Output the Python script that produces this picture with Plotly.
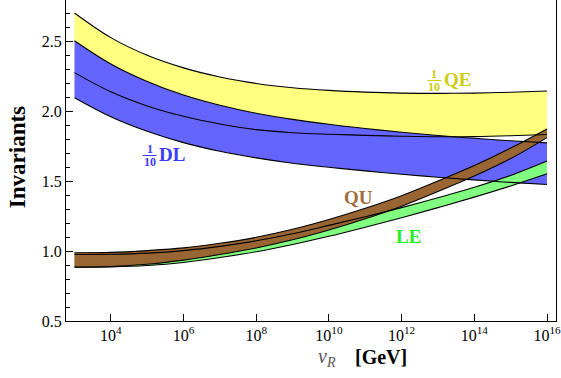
import plotly.graph_objects as go

# ---- data ----
decades = [3, 4, 5, 6, 7, 8, 9, 10, 11, 12, 13, 14, 15, 16]
QE_hi = [2.70, 2.524, 2.398, 2.308, 2.243, 2.197, 2.166, 2.147, 2.135, 2.128, 2.126, 2.128, 2.134, 2.143]
QE_lo = [2.274, 2.137, 2.036, 1.962, 1.907, 1.867, 1.845, 1.834, 1.826, 1.82, 1.816, 1.817, 1.823, 1.832]
DL_hi = [2.502, 2.336, 2.211, 2.114, 2.041, 1.984, 1.94, 1.905, 1.875, 1.848, 1.825, 1.805, 1.787, 1.772]
DL_lo = [2.095, 1.959, 1.855, 1.774, 1.712, 1.665, 1.627, 1.598, 1.572, 1.548, 1.527, 1.508, 1.49, 1.475]
QU_hi = [0.988, 0.99, 1.003, 1.022, 1.055, 1.098, 1.155, 1.225, 1.305, 1.395, 1.50, 1.61, 1.735, 1.872]
QU_lo = [0.886, 0.889, 0.905, 0.935, 0.975, 1.022, 1.08, 1.15, 1.23, 1.32, 1.425, 1.535, 1.66, 1.81]
LE_hi = [0.975, 0.977, 0.985, 1.003, 1.033, 1.073, 1.123, 1.183, 1.245, 1.31, 1.38, 1.455, 1.54, 1.643]
LE_lo = [0.884, 0.886, 0.896, 0.918, 0.953, 0.995, 1.047, 1.105, 1.17, 1.238, 1.31, 1.385, 1.465, 1.552]

x_tick_exp = [4, 6, 8, 10, 12, 14, 16]
x_tick_text = ["10<sup>%d</sup>" % e for e in x_tick_exp]
y_ticks = [0.5, 1.0, 1.5, 2.0, 2.5]

x = [10.0 ** d for d in decades]

W, H = 561, 378
ML, MR, MT, MB = 66, 3, 0, 57
PW, PH = W - ML - MR, H - MT - MB


def px(xp):
    return (xp - ML) / PW


def py(yp):
    return (H - MB - yp) / PH


FONT = "Liberation Serif"
fig = go.Figure()

bands = [
    (QE_lo, QE_hi, "#FFFF80"),
    (DL_lo, DL_hi, "#6464FF"),
    (LE_lo, LE_hi, "#80FF80"),
    (QU_lo, QU_hi, "#996633"),
]
for lo, hi, col in bands:
    fig.add_trace(go.Scatter(x=x, y=lo, mode="lines", line=dict(width=0, shape="spline"),
                             hoverinfo="skip", showlegend=False))
    fig.add_trace(go.Scatter(x=x, y=hi, mode="lines", line=dict(width=0, shape="spline"),
                             fill="tonexty", fillcolor=col, hoverinfo="skip", showlegend=False))

for arr in [QE_hi, QE_lo, DL_hi, DL_lo, LE_hi, LE_lo, QU_hi, QU_lo]:
    fig.add_trace(go.Scatter(x=x, y=arr, mode="lines",
                             line=dict(color="black", width=1.1, shape="spline"),
                             hoverinfo="skip", showlegend=False))

ann = []
shapes = []


def label(xp, yp, text, color, size, xanchor="center"):
    ann.append(dict(x=px(xp), y=py(yp), xref="paper", yref="paper", text=text,
                    showarrow=False, xanchor=xanchor, yanchor="middle",
                    font=dict(family=FONT, size=size, color=color)))


def frac(xc, y1, y2, ybar, color):
    label(xc, y1, "<b>1</b>", color, 12)
    label(xc, y2, "<b>10</b>", color, 12)
    shapes.append(dict(type="line", xref="paper", yref="paper",
                       x0=px(xc - 7), x1=px(xc + 7), y0=py(ybar), y1=py(ybar),
                       line=dict(color=color, width=1)))


qe_col = "#CCCC11"
dl_col = "#3C3CFF"
qu_col = "#A06E3C"
le_col = "#22F022"

frac(436, 74.5, 87, 80.5, qe_col)
label(444, 79, "<b>QE</b>", qe_col, 19, "left")
frac(150, 148.5, 162, 155.5, dl_col)
label(157, 154, "<b>DL</b>", dl_col, 19, "left")
label(360, 197, "<b>QU</b>", qu_col, 19)
label(409.5, 236.5, "<b>LE</b>", le_col, 19)

# axis titles
ann.append(dict(x=px(17), y=py(157), xref="paper", yref="paper", text="<b>Invariants</b>",
                textangle=-90, showarrow=False, xanchor="center", yanchor="middle",
                font=dict(family=FONT, size=23, color="black")))
label(328, 358, "<i>v</i><sub><i>R</i></sub>", "#555555", 20)
label(382, 357, "<b>[GeV]</b>", "black", 20)

fig.update_layout(
    width=W, height=H,
    margin=dict(l=ML, r=MR, t=MT, b=MB),
    paper_bgcolor="white", plot_bgcolor="white",
    annotations=ann, shapes=shapes,
    showlegend=False,
)
fig.update_xaxes(type="log", range=[2.767, 16.247],
                 tickvals=[10.0 ** e for e in x_tick_exp], ticktext=x_tick_text,
                 ticks="inside", ticklen=7, tickcolor="black", tickwidth=1,
                 ticklabeloverflow="allow",
                 showline=True, linecolor="black", linewidth=1, mirror=False,
                 showgrid=False, zeroline=False,
                 tickfont=dict(family=FONT, size=16, color="black"))
fig.update_yaxes(range=[0.5, 0.5 + 321 / 140],
                 tickvals=y_ticks, tickformat=".1f",
                 ticks="inside", ticklen=7, tickcolor="black", tickwidth=1,
                 minor=dict(dtick=0.1, ticks="inside", ticklen=4, tickcolor="black", tickwidth=1),
                 showline=True, linecolor="black", linewidth=1, mirror=True,
                 showgrid=False, zeroline=False,
                 tickfont=dict(family=FONT, size=16, color="black"))

fig.write_html("out.html")
